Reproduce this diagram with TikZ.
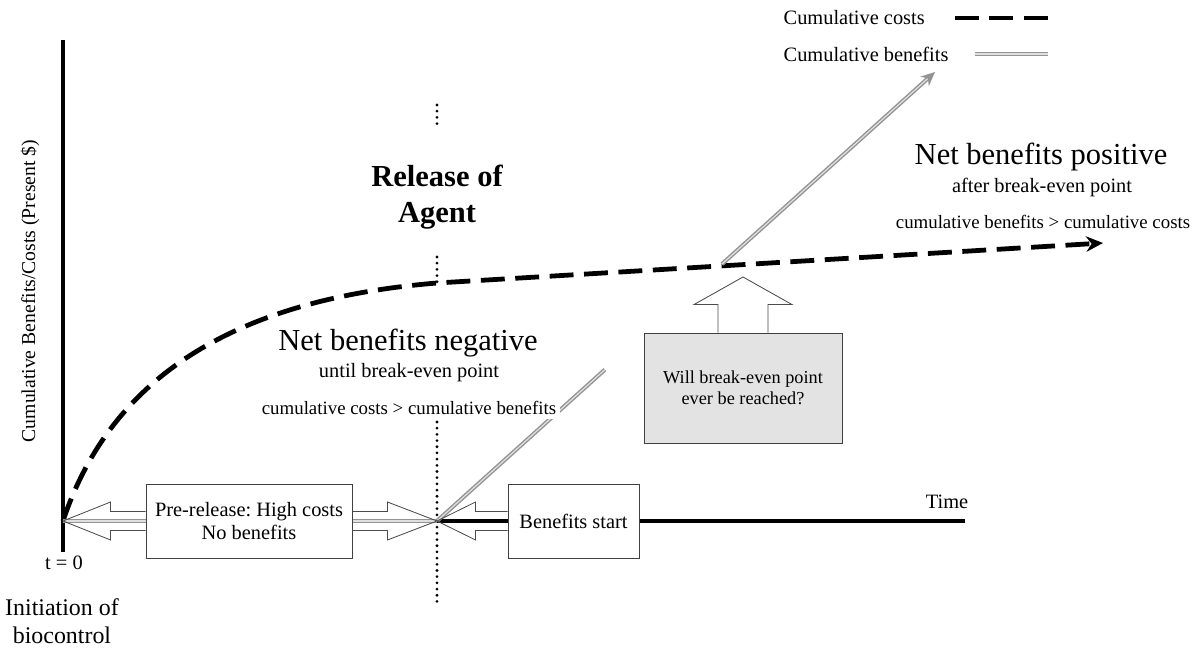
\documentclass[tikz,border=0pt]{standalone}
\usepackage{fontspec}
\setmainfont{Liberation Serif}
\usetikzlibrary{arrows.meta, calc}
\frenchspacing

\begin{document}
\begin{tikzpicture}[
        x=0.025cm, y=-0.025cm,
        every node/.style={align=center, inner sep=1pt},
        axis/.style={line width=2.8pt},
        costs/.style={line width=3.4pt, dash pattern=on 17pt off 7.5pt},
        benefit/.style={draw=gray!85, double=gray!25, double distance=0.9pt, line width=1pt},
        release/.style={line width=2.2pt, dash pattern=on 0pt off 4.4pt, line cap=round},
        phasebox/.style={rectangle, draw=black!75, fill=white, line width=0.6pt,
                         minimum height=1.85cm, font=\fontsize{14.5}{16.5}\selectfont},
        blockarrow/.style={draw=black!70, line width=0.6pt},
        headtxt/.style={font=\fontsize{21.7}{26}\selectfont},
        subtxt/.style={font=\fontsize{14.5}{17}\selectfont},
        gaptxt/.style={font=\fontsize{13.4}{16}\selectfont, fill=white, inner sep=3pt}
    ]
        \useasboundingbox (0,0) rectangle (1198,648);

        % Key points on the time line
        \coordinate (O) at (63,521);
        \coordinate (R) at (437,521);
        \coordinate (ytop) at (63,40);
        \coordinate (ybot) at (63,552);
        \coordinate (tend) at (965,521);
        \coordinate (tip) at (935,72);
        \coordinate (even) at (743,277);

        % Axes
        \draw[axis] (ytop) -- (ybot);
        \draw[axis] (O) -- (tend);

        % Release of agent (dotted marker)
        \draw[release] (437,105) -- (437,128);
        \draw[release] (437,257) -- (437,286);
        \draw[release] (437,422) -- (437,605);

        % Cumulative costs
        \draw[costs, -{Stealth[length=12pt, width=11pt]}]
            (O) .. controls (110,380) and (230,300) .. (437,283) -- (1103,243);

        % Cumulative benefits: zero before release, then rising
        \draw[benefit] (O) -- (R);
        \draw[benefit] (R) -- ($(R)!0.337!(tip)$);
        \draw[benefit, -{Stealth[length=10pt, width=9pt]}] ($(R)!0.572!(tip)$) -- (tip);

        % Phases on the time line
        \node[phasebox, minimum width=5.15cm] (prerel) at (249,521) {Pre-release: High costs\\No benefits};
        \node[phasebox, minimum width=3.275cm] (benstart) at (573.5,521) {Benefits start};

        \draw[blockarrow] ($(prerel.west)+(0,-9.5)$) -- ++(-35,0) -- ++(0,-9.5) -- (O)
            -- ($(prerel.west)+(-35,19)$) -- ++(0,-9.5) -- ++(35,0);
        \draw[blockarrow] ($(prerel.east)+(0,-9.5)$) -- ++(35,0) -- ++(0,-9.5) -- (R)
            -- ($(prerel.east)+(35,19)$) -- ++(0,-9.5) -- ++(-35,0);
        \draw[blockarrow] ($(benstart.west)+(0,-9.5)$) -- ++(-32,0) -- ++(0,-9.5) -- (R)
            -- ($(benstart.west)+(-32,19)$) -- ++(0,-9.5) -- ++(32,0);

        % Break-even question
        \node[rectangle, draw=black!75, fill=black!11, line width=0.6pt,
              minimum width=4.95cm, minimum height=2.75cm,
              font=\fontsize{13}{15}\selectfont] (will) at (743,388) {Will break-even point\\ever be reached?};
        \draw[blockarrow, fill=white] ($(will.north)+(-25,0)$) -- ++(0,-28) -- ++(-24,0) -- (even)
            -- ($(will.north)+(49,-28)$) -- ++(-24,0) -- ++(0,28);

        % Labels
        \node[font=\fontsize{21.7}{26}\selectfont\bfseries] (agent) at (437,197) {Release of\\Agent};
        \node[headtxt] (neghead) at (408,343) {Net benefits negative};
        \node[subtxt] (negsub) at (409,373) {until break-even point};
        \node[gaptxt] (negcmp) at (409,408) {cumulative costs > cumulative benefits};
        \node[headtxt] (poshead) at (1041,157) {Net benefits positive};
        \node[subtxt] (possub) at (1042,187) {after break-even point};
        \node[gaptxt] (poscmp) at (1043,222) {cumulative benefits > cumulative costs};
        \node[subtxt] (timelbl) at (947,502) {Time};
        \node[subtxt] (tzero) at (64,563) {t = 0};
        \node[font=\fontsize{17}{20}\selectfont] (init) at (62,621) {Initiation of\\biocontrol};
        \node[font=\fontsize{14}{16}\selectfont, rotate=90] (ylbl) at (30,291) {Cumulative Benefits/Costs (Present \$)};

        % Legend
        \node[subtxt, anchor=west] (lgcost) at (782,18) {Cumulative costs};
        \node[subtxt, anchor=west] (lgben) at (782,54) {Cumulative benefits};
        \draw[costs] (955,18) -- (1048,18);
        \draw[benefit] (975,54) -- (1048,54);
    \end{tikzpicture}
\end{document}
